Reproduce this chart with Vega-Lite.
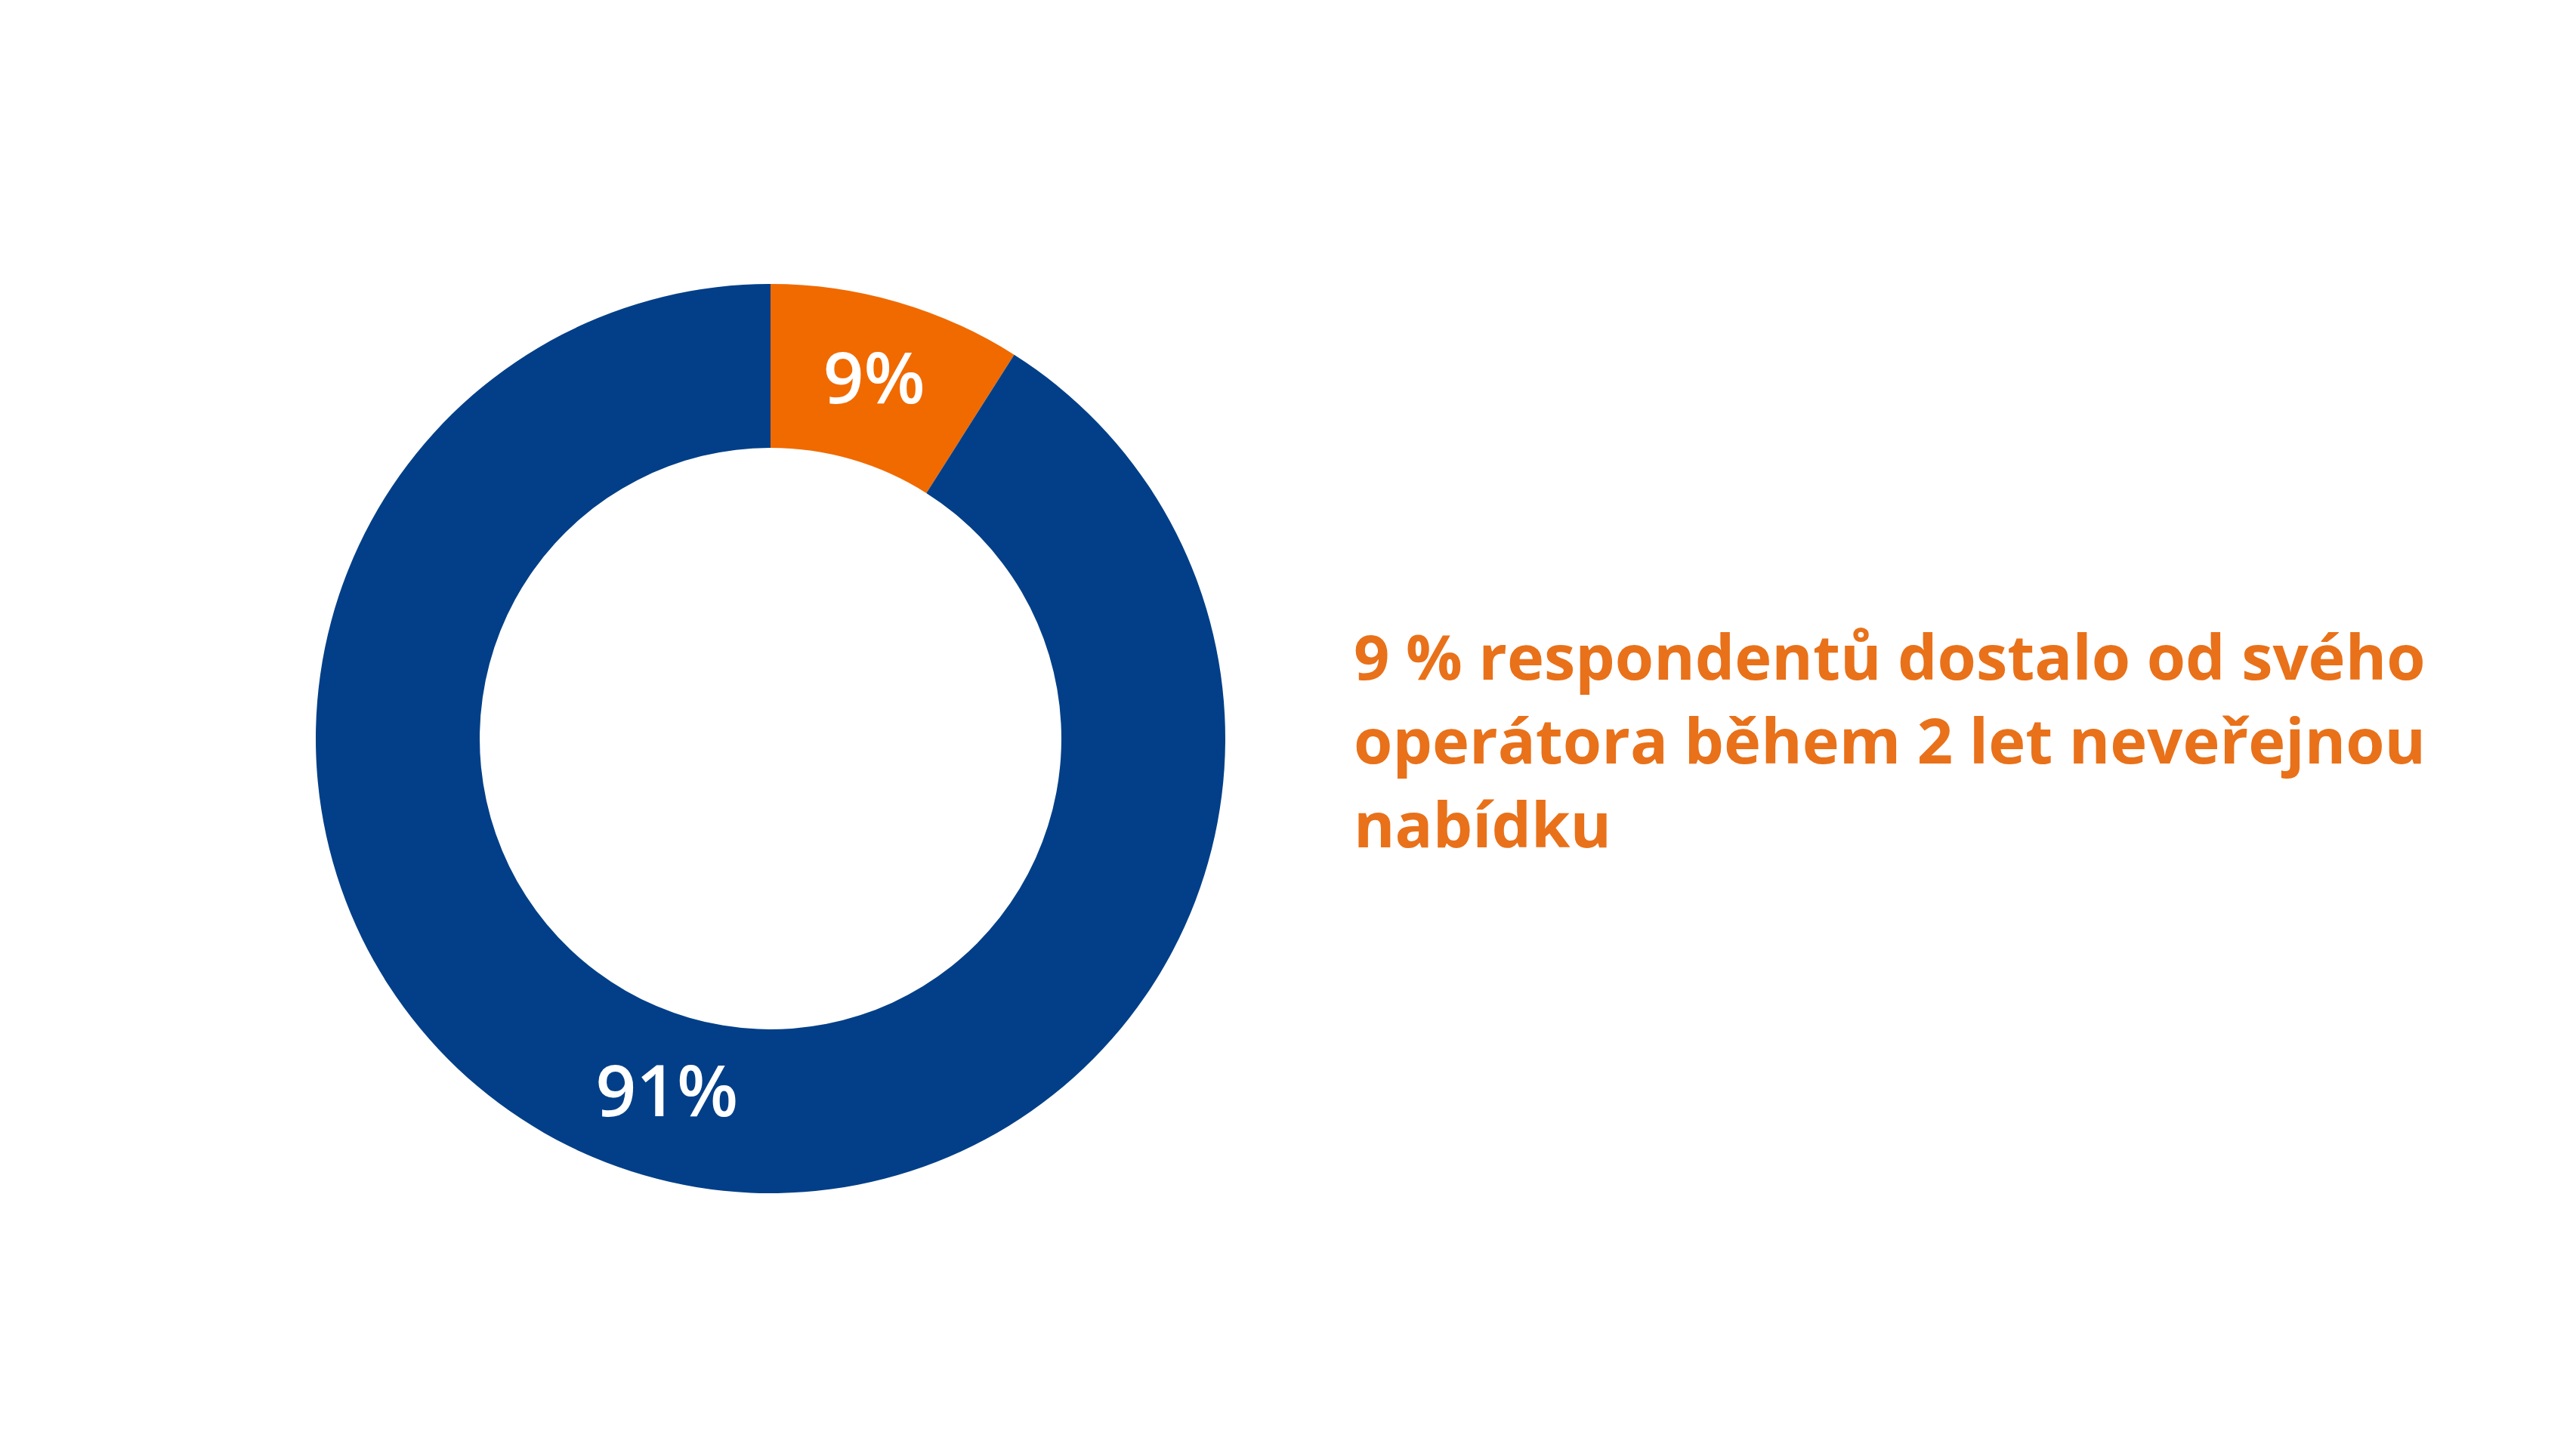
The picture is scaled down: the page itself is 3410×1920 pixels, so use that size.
{
  "$schema": "https://vega.github.io/schema/vega-lite/v6.json",
  "background": "#ffffff",
  "padding": {"left": 370, "top": 18, "right": 0, "bottom": 0},
  "config": {"view": {"stroke": null}, "font": "Open Sans"},
  "spacing": 122,
  "hconcat": [
    {
      "width": 1300,
      "height": 1920,
      "data": {"values": [
        {"group": "Dostalo neveřejnou nabídku", "value": 9, "label": "9%", "order": 1},
        {"group": "Nedostalo", "value": 91, "label": "91%", "order": 2}
      ]},
      "encoding": {
        "theta": {"field": "value", "type": "quantitative", "stack": true},
        "order": {"field": "order", "type": "quantitative"},
        "color": {"field": "group", "type": "nominal", "legend": null,
          "scale": {"domain": ["Dostalo neveřejnou nabídku", "Nedostalo"], "range": ["#F06A00", "#023F88"]}}
      },
      "layer": [
        {"mark": {"type": "arc", "outerRadius": 602, "innerRadius": 385}},
        {"mark": {"type": "text", "radius": 492, "fontSize": 94, "fontWeight": 600, "align": "center", "baseline": "middle"},
         "encoding": {"text": {"field": "label", "type": "nominal"}, "color": {"value": "#ffffff"}}}
      ]
    },
    {
      "width": 1500,
      "height": 1920,
      "data": {"values": [
        {"row": 1, "line": "9 % respondentů dostalo od svého"},
        {"row": 2, "line": "operátora během 2 let neveřejnou"},
        {"row": 3, "line": "nabídku"}
      ]},
      "mark": {"type": "text", "align": "left", "baseline": "alphabetic", "fontSize": 83, "fontWeight": "bold", "color": "#E8711A"},
      "encoding": {
        "x": {"datum": 0, "type": "quantitative", "scale": {"domain": [0, 1]}, "axis": null},
        "y": {"field": "row", "type": "quantitative", "axis": null,
          "scale": {"domain": [-6.946, 10.351], "reverse": true, "nice": false, "zero": false}},
        "text": {"field": "line", "type": "nominal"}
      }
    }
  ]
}
